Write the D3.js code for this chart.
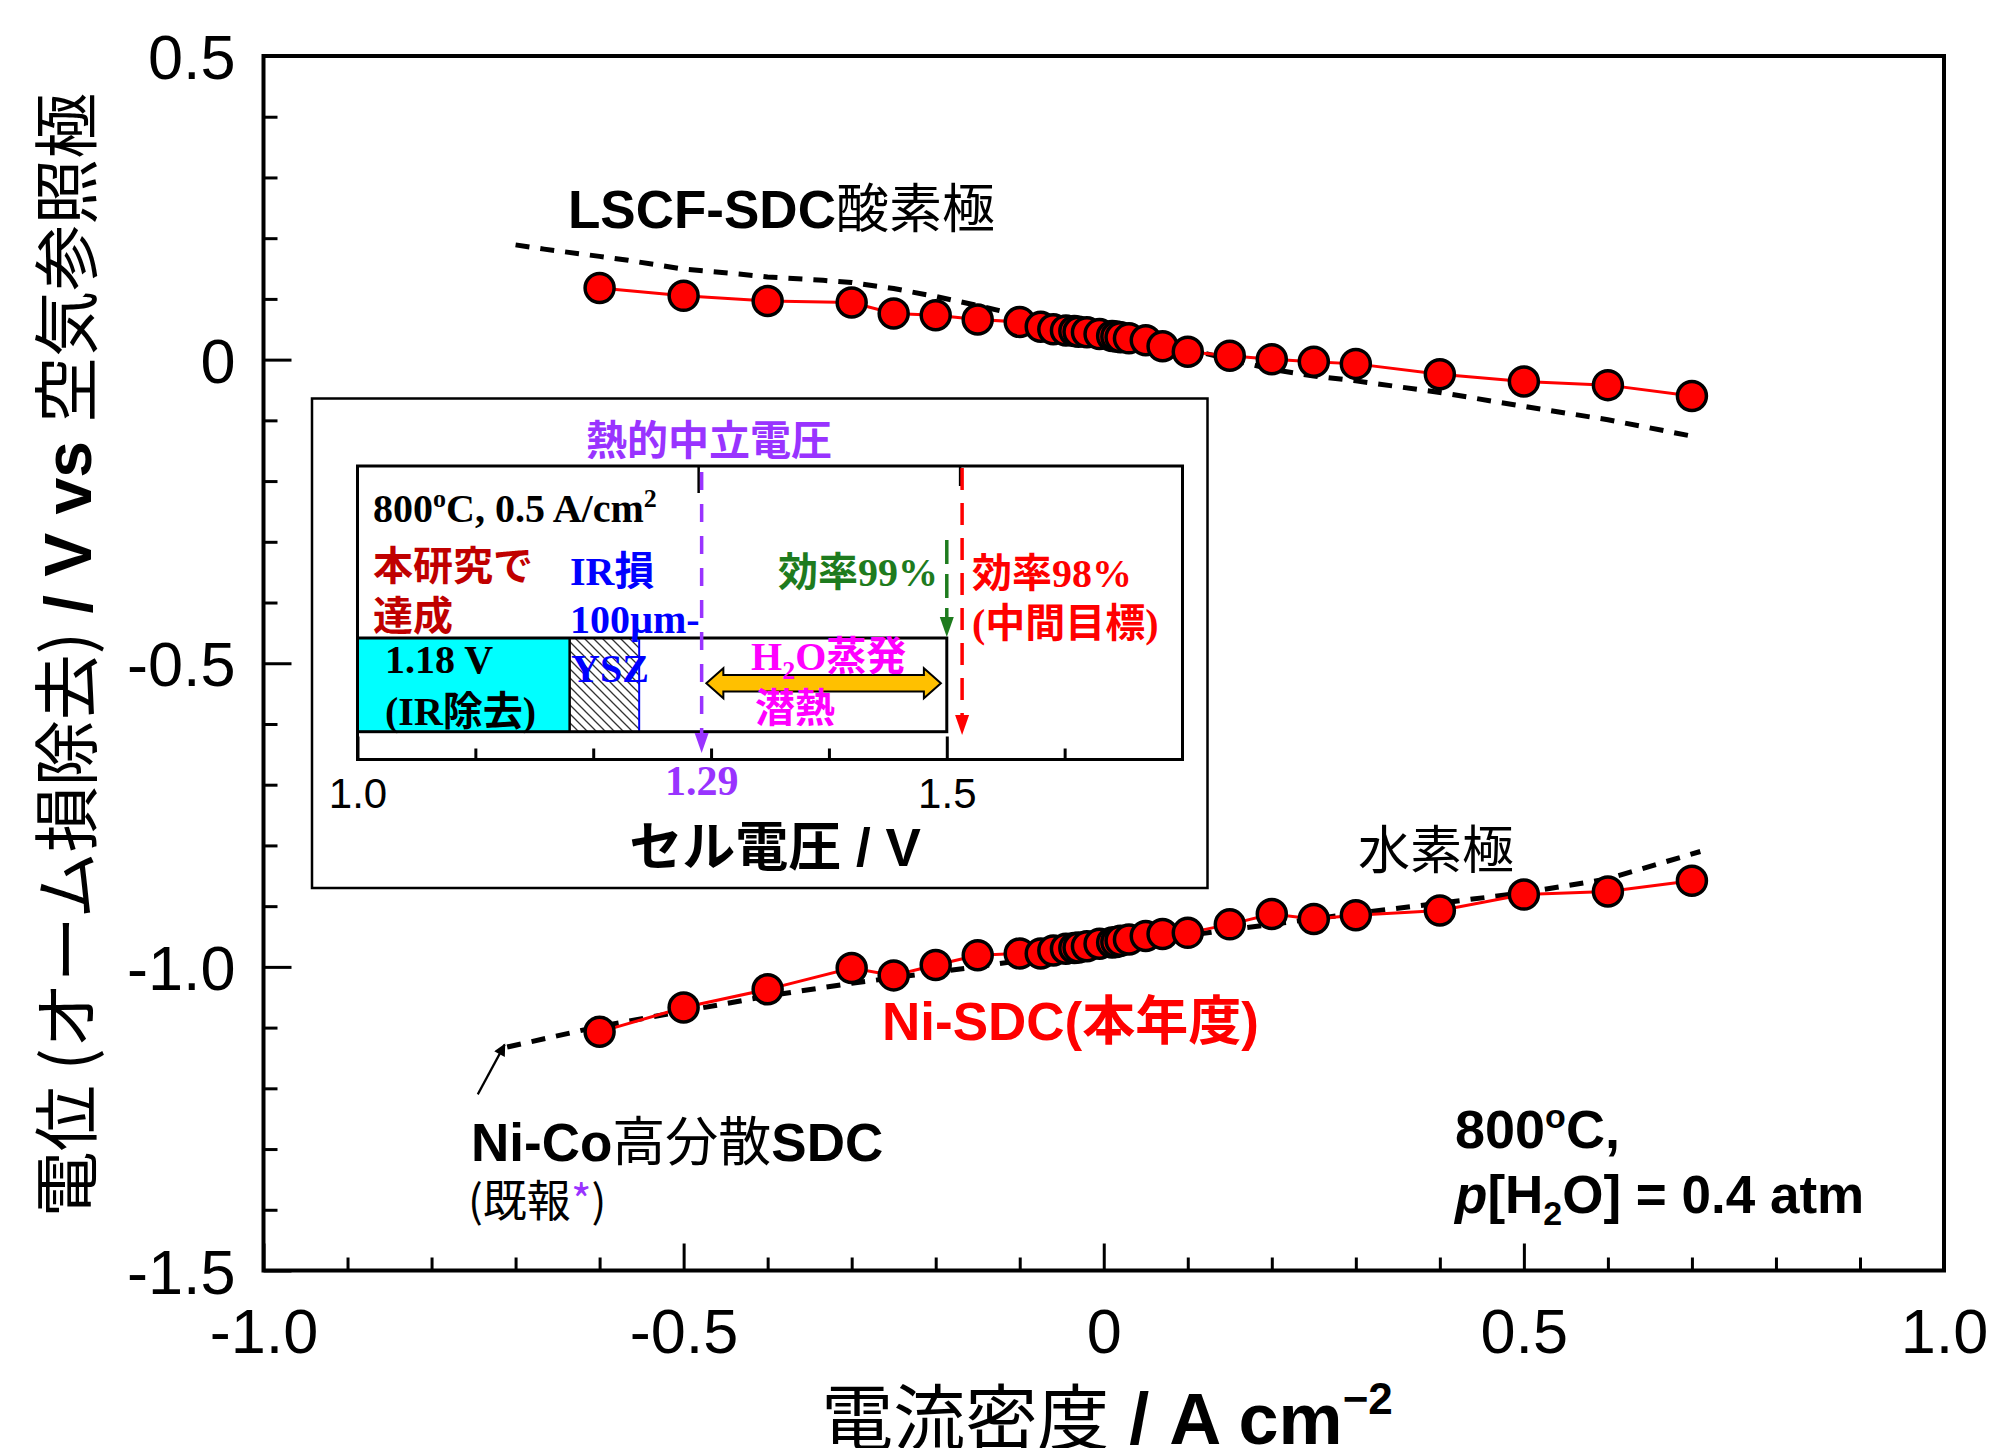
<!DOCTYPE html>
<html><head><meta charset="utf-8">
<script src="https://cdn.jsdelivr.net/npm/d3@7"></script>
<style>
html,body{margin:0;padding:0;background:#fff;}
svg{display:block;}
</style></head><body>
<svg id="chart" width="1996" height="1448"></svg>
<script>
// ---------------- data ----------------
const currentDensity = [-0.6,-0.5,-0.4,-0.3,-0.25,-0.2,-0.15,-0.1,-0.075,-0.06,-0.045,-0.035,-0.03,-0.02,-0.005,0.01,0.015,0.02,0.03,0.05,0.07,0.1,0.15,0.2,0.25,0.3,0.4,0.5,0.6,0.7];
const oxygenElectrodeV = [0.118,0.105,0.0965,0.094,0.076,0.073,0.066,0.062,0.054,0.050,0.048,0.047,0.046,0.045,0.042,0.039,0.038,0.037,0.035,0.032,0.022,0.013,0.0064,0.0008,-0.0034,-0.007,-0.024,-0.036,-0.042,-0.060];
const hydrogenElectrodeV = [-1.107,-1.067,-1.037,-1.002,-1.014,-0.997,-0.981,-0.978,-0.978,-0.973,-0.970,-0.969,-0.968,-0.966,-0.962,-0.960,-0.959,-0.957,-0.955,-0.949,-0.946,-0.944,-0.930,-0.913,-0.921,-0.915,-0.907,-0.881,-0.876,-0.858];

// previous-report reference curves (dashed)
const oxygenRefX = [-0.70,-0.666,-0.60,-0.566,-0.50,-0.434,-0.40,-0.334,-0.30,-0.25,-0.20,-0.15,-0.10,0,0.1,0.2,0.25,0.3,0.4,0.5,0.6,0.7];
const oxygenRefV = [0.189,0.182,0.170,0.1635,0.149,0.141,0.136,0.1306,0.127,0.117,0.104,0.089,0.073,0.045,0.017,-0.016,-0.027,-0.035,-0.054,-0.077,-0.099,-0.126];
const hydrogenRefX = [-0.71,-0.6,-0.5,-0.4,-0.3,-0.2,-0.1,0,0.1,0.2,0.3,0.4,0.5,0.6,0.71];
const hydrogenRefV = [-1.132,-1.098,-1.073,-1.048,-1.027,-1.009,-0.99,-0.968,-0.948,-0.93,-0.912,-0.895,-0.878,-0.855,-0.81];

const xTickValues = [-1,-0.5,0,0.5,1];
const xTickLabels = ["-1.0","-0.5","0","0.5","1.0"];
const yTickValues = [0.5,0,-0.5,-1,-1.5];
const yTickLabels = ["0.5","0","-0.5","-1.0","-1.5"];

// inset (cell voltage) data
const insetDomain = [1.0,1.7];
const insetTickValues = [1.0,1.5];
const insetTickLabels = ["1.0","1.5"];
const irFreeVoltage = 1.18;
const yszEndVoltage = 1.239;
const barEndVoltage = 1.5;
const thermoneutralV = 1.292;
const thermoneutralLabel = "1.29";
const eff99V = 1.5;
const eff98V = 1.513;
const latentArrow = [1.296, 1.495];

// ---------------- setup ----------------
const svg = d3.select("#chart");
const SANS = "'Liberation Sans', Arial, 'Noto Sans CJK JP', sans-serif";
const CJK = "'Noto Sans CJK JP', sans-serif";
const SERIF = "'Liberation Serif', 'Times New Roman', 'Noto Sans CJK JP', serif";

const L = 263.5, R = 1944, T = 56, B = 1270.5;
const x = d3.scaleLinear().domain([-1,1]).range([L,R]);
const y = d3.scaleLinear().domain([-1.5,0.5]).range([B,T]);

const defs = svg.append("defs");
defs.append("marker").attr("id","ah").attr("viewBox","0 0 10 10").attr("refX",9).attr("refY",5)
  .attr("markerWidth",16).attr("markerHeight",12).attr("markerUnits","userSpaceOnUse").attr("orient","auto")
  .append("path").attr("d","M0,0 L10,5 L0,10 z").attr("fill","#000");
const pat = defs.append("pattern").attr("id","hatch").attr("patternUnits","userSpaceOnUse").attr("width",9).attr("height",9);
pat.append("rect").attr("width",9).attr("height",9).attr("fill","#fff");
pat.append("path").attr("d","M0,0 L9,9 M-3,6 L3,12 M6,-3 L12,3").attr("stroke","#333").attr("stroke-width",1.3);

function styleAxis(g, fs){
  g.select(".domain").remove();
  g.selectAll(".tick line").attr("stroke","#000").attr("stroke-width",3);
  g.selectAll(".tick text").attr("font-family",SANS).attr("font-size",fs).attr("fill","#000");
}

// minor / major ticks
const xMinor = d3.range(-10,11).filter(i=>i%5!==0).map(i=>i/10);
const yMinor = d3.range(-15,6).filter(i=>i%5!==0).map(i=>i/10);

svg.append("g").attr("transform",`translate(0,${B})`)
  .call(d3.axisBottom(x).tickValues(xMinor).tickSize(-13).tickFormat(""))
  .call(g=>styleAxis(g,63));
svg.append("g").attr("transform",`translate(0,${B})`)
  .call(d3.axisBottom(x).tickValues(xTickValues).tickSize(-27).tickPadding(38).tickFormat((d,i)=>xTickLabels[i]))
  .call(g=>styleAxis(g,63));
svg.append("g").attr("transform",`translate(${L},0)`)
  .call(d3.axisLeft(y).tickValues(yMinor).tickSize(-14).tickFormat(""))
  .call(g=>styleAxis(g,63));
svg.append("g").attr("transform",`translate(${L},0)`)
  .call(d3.axisLeft(y).tickValues(yTickValues).tickSize(-28).tickPadding(28).tickFormat((d,i)=>yTickLabels[i]))
  .call(g=>{styleAxis(g,63); g.selectAll(".tick text").attr("dy","0.36em");});

svg.append("rect").attr("x",L).attr("y",T).attr("width",R-L).attr("height",B-T)
  .attr("fill","none").attr("stroke","#000").attr("stroke-width",4);

// ---------------- series ----------------
const line = d3.line().x(d=>x(d[0])).y(d=>y(d[1]));
const oxRef = oxygenRefX.map((v,i)=>[v,oxygenRefV[i]]);
const hyRef = hydrogenRefX.map((v,i)=>[v,hydrogenRefV[i]]);
[oxRef, hyRef].forEach(d=>{
  svg.append("path").attr("d",line(d)).attr("fill","none").attr("stroke","#000")
    .attr("stroke-width",5).attr("stroke-dasharray","14,11");
});
const ox = currentDensity.map((v,i)=>[v,oxygenElectrodeV[i]]);
const hy = currentDensity.map((v,i)=>[v,hydrogenElectrodeV[i]]);
[ox, hy].forEach(d=>{
  svg.append("path").attr("d",line(d)).attr("fill","none").attr("stroke","#ff0000").attr("stroke-width",3);
  svg.append("g").selectAll("circle").data(d).join("circle")
    .attr("cx",p=>x(p[0])).attr("cy",p=>y(p[1])).attr("r",14.5)
    .attr("fill","#ff0000").attr("stroke","#000").attr("stroke-width",3.5);
});

// arrow pointing at previous-report curve
svg.append("line").attr("x1",x(-0.745)).attr("y1",y(-1.21)).attr("x2",x(-0.713)).attr("y2",y(-1.128))
  .attr("stroke","#000").attr("stroke-width",2.2).attr("marker-end","url(#ah)");

// ---------------- text helper ----------------
function txt(parent, xp, yp, parts, base){
  const t = parent.append("text").attr("x",xp).attr("y",yp)
    .attr("font-family",base.family||SANS).attr("font-size",base.size)
    .attr("font-weight",base.weight||"normal").attr("fill",base.fill||"#000");
  if(base.anchor) t.attr("text-anchor",base.anchor);
  if(base.transform) t.attr("transform",base.transform);
  parts.forEach(p=>{
    if(typeof p === "string"){ t.append("tspan").text(p); return; }
    const s = t.append("tspan").text(p.t);
    if(p.weight) s.attr("font-weight",p.weight);
    if(p.fill) s.attr("fill",p.fill);
    if(p.family) s.attr("font-family",p.family);
    if(p.size) s.attr("font-size",p.size);
    if(p.style) s.attr("font-style",p.style);
    if(p.dy) s.attr("dy",p.dy);
  });
  return t;
}

// axis titles
txt(svg, 0, 0, [
  {t:"電位 (オーム損除去)", family:CJK},
  {t:" / V vs ", weight:"bold"},
  {t:"空気参照極", family:CJK}
], {size:66, anchor:"middle", transform:"translate(91,655) rotate(-90)"});

txt(svg, 1107, 1444, [
  {t:"電流密度", family:CJK},
  {t:" / A cm", weight:"bold"},
  {t:"−2", weight:"bold", size:44, dy:"-30"}
], {size:72, anchor:"middle"});

// annotations
txt(svg, 568, 228, [{t:"LSCF-SDC", weight:"bold"},{t:"酸素極", family:CJK}], {size:53});
txt(svg, 1358, 869, [{t:"水素極", family:CJK}], {size:52});
txt(svg, 882, 1040, [{t:"Ni-SDC(本年度)"}], {size:53, weight:"bold", fill:"#ff0000"});
txt(svg, 471, 1161, [{t:"Ni-Co", weight:"bold"},{t:"高分散", family:CJK},{t:"SDC", weight:"bold"}], {size:53});
txt(svg, 468, 1217, [{t:"(既報"},{t:"*", fill:"#9933ff"},{t:")"}], {size:44, family:CJK});
txt(svg, 1455, 1148, [{t:"800"},{t:"o", size:34, dy:"-20"},{t:"C,", dy:"20"}], {size:54, weight:"bold"});
txt(svg, 1455, 1213, [{t:"p", style:"italic"},{t:"[H"},{t:"2", size:34, dy:"12"},{t:"O] = 0.4 atm", dy:"-12"}], {size:53, weight:"bold"});

// ---------------- inset ----------------
const ins = svg.append("g");
ins.append("rect").attr("x",312).attr("y",398.5).attr("width",895.5).attr("height",489.5)
  .attr("fill","#fff").attr("stroke","#000").attr("stroke-width",2.5);
const IL = 357.5, IR = 1182.5, IT = 466, IB = 759.5;
const xi = d3.scaleLinear().domain(insetDomain).range([IL,IR]);
const barTop = 638, barBot = 731.7;

// bar
ins.append("rect").attr("x",xi(1.0)).attr("y",barTop).attr("width",xi(barEndVoltage)-xi(1.0)).attr("height",barBot-barTop)
  .attr("fill","#fff");
ins.append("rect").attr("x",xi(1.0)).attr("y",barTop).attr("width",xi(irFreeVoltage)-xi(1.0)).attr("height",barBot-barTop)
  .attr("fill","#00ffff");
ins.append("rect").attr("x",xi(irFreeVoltage)).attr("y",barTop).attr("width",xi(yszEndVoltage)-xi(irFreeVoltage)).attr("height",barBot-barTop)
  .attr("fill","url(#hatch)");
ins.append("line").attr("x1",xi(irFreeVoltage)).attr("x2",xi(irFreeVoltage)).attr("y1",barTop).attr("y2",barBot).attr("stroke","#000").attr("stroke-width",2.5);
ins.append("line").attr("x1",xi(yszEndVoltage)).attr("x2",xi(yszEndVoltage)).attr("y1",barTop).attr("y2",barBot).attr("stroke","#0000ff").attr("stroke-width",2);
ins.append("rect").attr("x",xi(1.0)).attr("y",barTop).attr("width",xi(barEndVoltage)-xi(1.0)).attr("height",barBot-barTop)
  .attr("fill","none").attr("stroke","#000").attr("stroke-width",3);

// latent heat double arrow
{
  const a = xi(latentArrow[0]), b = xi(latentArrow[1]), cy = 683.3, hl = 17, hh = 15, sh = 8.3;
  const pts = [[a,cy],[a+hl,cy-hh],[a+hl,cy-sh],[b-hl,cy-sh],[b-hl,cy-hh],[b,cy],[b-hl,cy+hh],[b-hl,cy+sh],[a+hl,cy+sh],[a+hl,cy+hh]];
  ins.append("path").attr("d","M"+pts.map(p=>p.join(",")).join("L")+"Z")
    .attr("fill","#ffc000").attr("stroke","#000").attr("stroke-width",2);
}

// inset axes
ins.append("g").attr("transform",`translate(0,${IB})`)
  .call(d3.axisBottom(xi).tickValues([1.1,1.2,1.3,1.4,1.6]).tickSize(-11).tickFormat(""))
  .call(g=>styleAxis(g,42));
ins.append("g").attr("transform",`translate(0,${IB})`)
  .call(d3.axisBottom(xi).tickValues(insetTickValues).tickSize(-23).tickPadding(19).tickFormat((d,i)=>insetTickLabels[i]))
  .call(g=>styleAxis(g,42));
ins.append("rect").attr("x",IL).attr("y",IT).attr("width",IR-IL).attr("height",IB-IT)
  .attr("fill","none").attr("stroke","#000").attr("stroke-width",3);

// vertical markers
function vmark(v, y1, y2, color, dash){
  const xv = xi(v);
  ins.append("line").attr("x1",xv).attr("x2",xv).attr("y1",y1).attr("y2",y2-14)
    .attr("stroke",color).attr("stroke-width",3.5).attr("stroke-dasharray",dash);
  ins.append("path").attr("d",`M${xv-7},${y2-20}L${xv+7},${y2-20}L${xv},${y2}Z`).attr("fill",color);
}
ins.append("line").attr("x1",xi(thermoneutralV)-3).attr("x2",xi(thermoneutralV)-3).attr("y1",IT).attr("y2",IT+27).attr("stroke","#000").attr("stroke-width",2.5);
ins.append("line").attr("x1",xi(eff98V)-2).attr("x2",xi(eff98V)-2).attr("y1",IT).attr("y2",IT+20).attr("stroke","#000").attr("stroke-width",2.5);
vmark(thermoneutralV, 472, 753, "#9933ff", "18,14");
vmark(eff99V, 540, 637, "#1e7b1e", "24,10");
vmark(eff98V, 468, 735, "#ff0000", "22,13");

// inset texts
const PURPLE = "#9933ff", DRED = "#c00000", BLUE = "#0000ff", MAG = "#ff00ff", GREEN = "#1e7b1e";
txt(ins, 586, 455, [{t:"熱的中立電圧"}], {size:41, weight:"bold", fill:PURPLE, family:CJK});
txt(ins, xi(thermoneutralV), 795, [{t:thermoneutralLabel}], {size:42, weight:"bold", fill:PURPLE, family:SERIF, anchor:"middle"});
txt(ins, 373, 522, [{t:"800"},{t:"o", size:26, dy:"-15"},{t:"C, 0.5 A/cm", dy:"15"},{t:"2", size:26, dy:"-15"}], {size:40, weight:"bold", family:SERIF});
txt(ins, 373, 580, [{t:"本研究で"}], {size:40, weight:"bold", fill:DRED, family:CJK});
txt(ins, 373, 630, [{t:"達成"}], {size:40, weight:"bold", fill:DRED, family:CJK});
txt(ins, 570, 585, [{t:"IR損"}], {size:40, weight:"bold", fill:BLUE, family:SERIF});
txt(ins, 570, 633, [{t:"100µm-"}], {size:40, weight:"bold", fill:BLUE, family:SERIF});
txt(ins, 385, 673, [{t:"1.18 V"}], {size:40, weight:"bold", family:SERIF});
txt(ins, 385, 725, [{t:"(IR除去)"}], {size:40, weight:"bold", family:SERIF});
txt(ins, 571, 682, [{t:"YSZ"}], {size:40, weight:"bold", fill:BLUE, family:SERIF});
txt(ins, 751, 670, [{t:"H"},{t:"2", size:26, dy:"9"},{t:"O蒸発", dy:"-9"}], {size:40, weight:"bold", fill:MAG, family:SERIF});
txt(ins, 755, 722, [{t:"潜熱"}], {size:40, weight:"bold", fill:MAG, family:SERIF});
txt(ins, 778, 586, [{t:"効率99%"}], {size:40, weight:"bold", fill:GREEN, family:SERIF});
txt(ins, 972, 587, [{t:"効率98%"}], {size:40, weight:"bold", fill:"#ff0000", family:SERIF});
txt(ins, 972, 637, [{t:"(中間目標)"}], {size:40, weight:"bold", fill:"#ff0000", family:SERIF});
txt(ins, 775, 866, [{t:"セル電圧", family:CJK},{t:" / V"}], {size:53, weight:"bold", anchor:"middle"});
</script>
</body></html>
